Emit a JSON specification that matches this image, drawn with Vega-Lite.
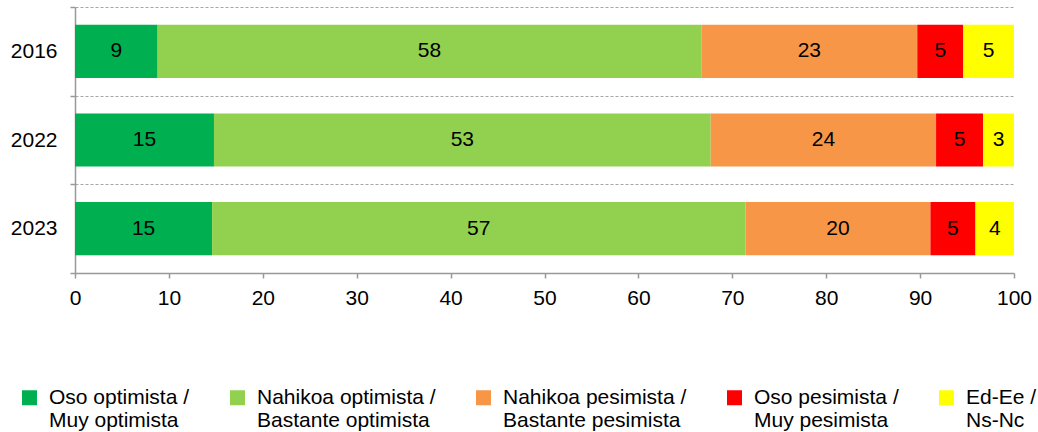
{
  "$schema": "https://vega.github.io/schema/vega-lite/v6.json",
  "width": 939,
  "height": 266,
  "autosize": "none",
  "padding": {"left": 75, "top": 7, "right": 24, "bottom": 159},
  "config": {
    "font": "Liberation Sans",
    "view": {"stroke": null},
    "axis": {"labelFont": "Liberation Sans", "labelColor": "#000000", "domainColor": "#999999", "tickColor": "#999999", "domainWidth": 1.5, "tickWidth": 1.5}
  },
  "data": {
    "values": [
      {"year": "2016", "cat": "Oso optimista / Muy optimista", "k": 1, "value": 8.8},
      {"year": "2016", "cat": "Nahikoa optimista / Bastante optimista", "k": 2, "value": 57.9},
      {"year": "2016", "cat": "Nahikoa pesimista / Bastante pesimista", "k": 3, "value": 23.0},
      {"year": "2016", "cat": "Oso pesimista / Muy pesimista", "k": 4, "value": 4.9},
      {"year": "2016", "cat": "Ed-Ee / Ns-Nc", "k": 5, "value": 5.4},
      {"year": "2022", "cat": "Oso optimista / Muy optimista", "k": 1, "value": 14.8},
      {"year": "2022", "cat": "Nahikoa optimista / Bastante optimista", "k": 2, "value": 52.9},
      {"year": "2022", "cat": "Nahikoa pesimista / Bastante pesimista", "k": 3, "value": 24.0},
      {"year": "2022", "cat": "Oso pesimista / Muy pesimista", "k": 4, "value": 5.0},
      {"year": "2022", "cat": "Ed-Ee / Ns-Nc", "k": 5, "value": 3.3},
      {"year": "2023", "cat": "Oso optimista / Muy optimista", "k": 1, "value": 14.6},
      {"year": "2023", "cat": "Nahikoa optimista / Bastante optimista", "k": 2, "value": 56.8},
      {"year": "2023", "cat": "Nahikoa pesimista / Bastante pesimista", "k": 3, "value": 19.7},
      {"year": "2023", "cat": "Oso pesimista / Muy pesimista", "k": 4, "value": 4.8},
      {"year": "2023", "cat": "Ed-Ee / Ns-Nc", "k": 5, "value": 4.1}
    ]
  },
  "encoding": {
    "y": {
      "field": "year",
      "type": "nominal",
      "sort": ["2016", "2022", "2023"],
      "scale": {"paddingInner": 0, "paddingOuter": 0},
      "axis": {
        "title": null,
        "tickBand": "extent",
        "grid": true,
        "gridDash": [3, 2],
        "gridColor": "#a6a6a6",
        "gridWidth": 1,
        "tickSize": 5,
        "labelPadding": 13,
        "labelFontSize": 21
      }
    }
  },
  "layer": [
    {
      "mark": {"type": "bar", "height": {"band": 0.6}},
      "encoding": {
        "x": {
          "field": "value",
          "type": "quantitative",
          "stack": "zero",
          "scale": {"domain": [0, 100], "nice": false},
          "axis": {
            "title": null,
            "values": [0, 10, 20, 30, 40, 50, 60, 70, 80, 90, 100],
            "grid": false,
            "tickSize": 5,
            "labelPadding": 9,
            "labelFontSize": 21,
            "labelFlush": false
          }
        },
        "color": {
          "field": "cat",
          "type": "nominal",
          "scale": {
            "domain": ["Oso optimista / Muy optimista", "Nahikoa optimista / Bastante optimista", "Nahikoa pesimista / Bastante pesimista", "Oso pesimista / Muy pesimista", "Ed-Ee / Ns-Nc"],
            "range": ["#00B050", "#92D050", "#F79646", "#FF0000", "#FFFF00"]
          },
          "legend": {
            "orient": "none",
            "legendX": -56,
            "legendY": 380,
            "direction": "horizontal",
            "columns": 5,
            "title": null,
            "padding": 0,
            "labelFontSize": 21,
            "labelFont": "Liberation Sans",
            "labelColor": "#000000",
            "labelLimit": 400,
            "labelOffset": 9,
            "columnPadding": 37,
            "symbolType": "square",
            "symbolSize": 225,
            "symbolStrokeWidth": 0,
            "labelExpr": "[split(datum.label, ' / ')[0] + ' /', split(datum.label, ' / ')[1]]"
          }
        },
        "order": {"field": "k", "type": "quantitative"}
      }
    },
    {
      "mark": {"type": "text", "fontSize": 21, "color": "#000000"},
      "encoding": {
        "x": {"field": "value", "type": "quantitative", "stack": "zero", "bandPosition": 0.5},
        "detail": {"field": "cat", "type": "nominal"},
        "order": {"field": "k", "type": "quantitative"},
        "text": {"field": "value", "type": "quantitative", "format": ".0f"}
      }
    }
  ]
}
